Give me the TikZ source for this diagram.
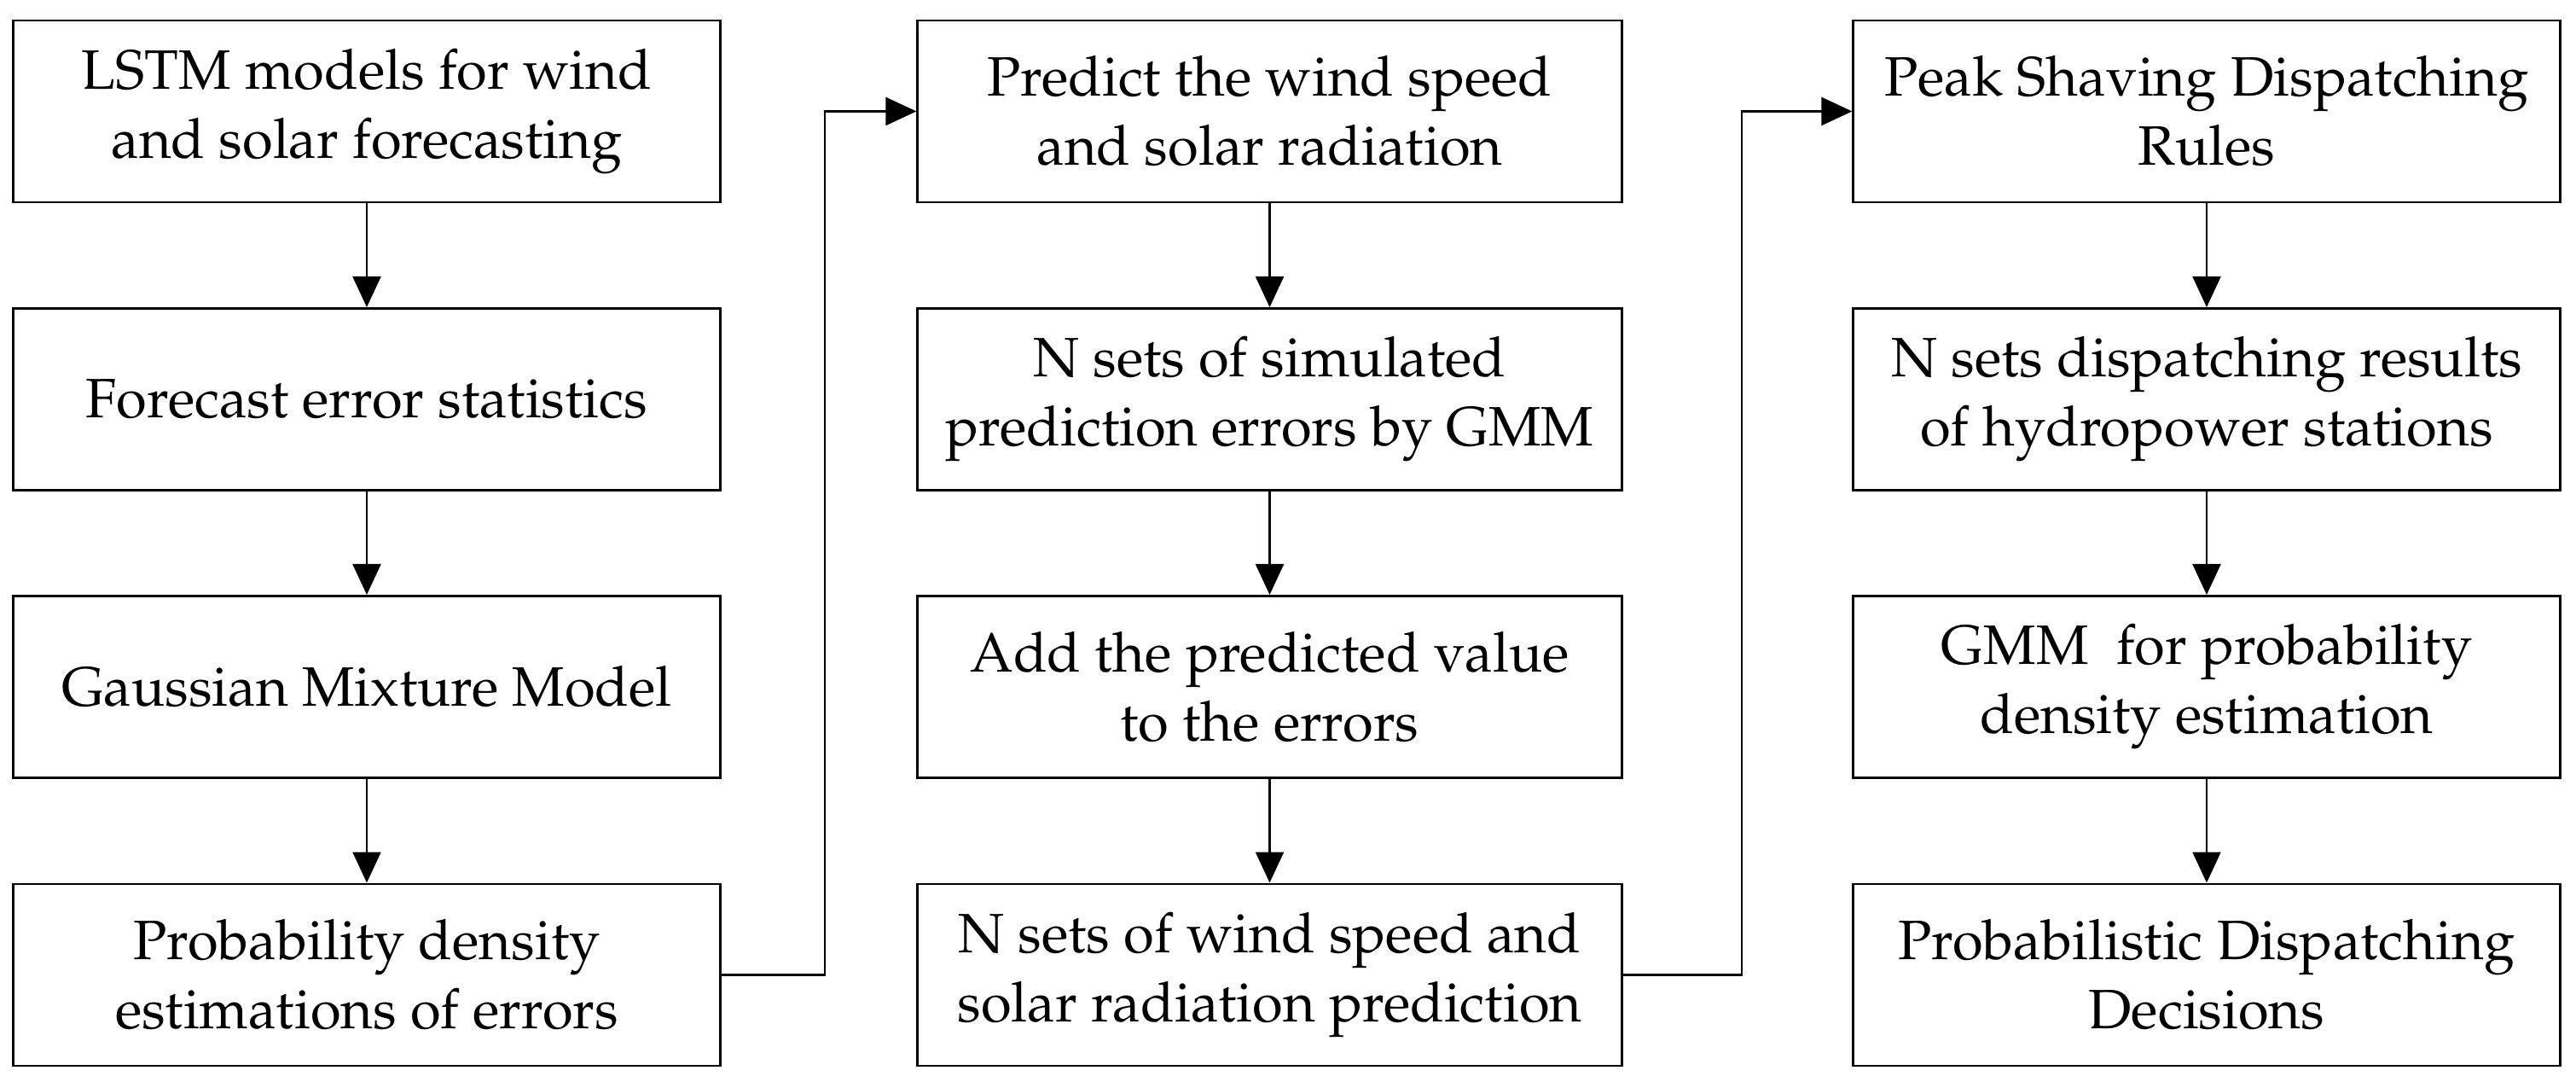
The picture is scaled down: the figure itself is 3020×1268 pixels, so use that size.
\documentclass[tikz,border=0pt]{standalone}
\usepackage[T1]{fontenc}
\usepackage{mathpazo}
\usetikzlibrary{arrows.meta}
\begin{document}
\begin{tikzpicture}[x=0.01cm,y=-0.01cm,
  box/.style={draw,line width=0.8pt,minimum width=8.28cm,minimum height=2.13cm,
    align=center,inner sep=0pt,font=\fontsize{18.5}{23}\selectfont},
  boxm/.style={box,minimum width=8.25cm},
  arr/.style={line width=0.65pt,-{Triangle[length=3.6mm,width=3.3mm]}}]
\useasboundingbox (0,0) rectangle (3020,1268);
% column 1
\node[box] (a1) at (430,130.5) {LSTM models for wind\\and solar forecasting};
\node[box] (a2) at (430,468) {Forecast error statistics};
\node[box] (a3) at (430,805) {Gaussian Mixture Model};
\node[box] (a4) at (430,1142.5) {Probability density\\estimations of errors};
% column 2
\node[boxm] (b1) at (1488.5,130.5) {Predict the wind speed\\and solar radiation};
\node[boxm] (b2) at (1488.5,468) {N sets of simulated\\prediction errors by GMM};
\node[boxm] (b3) at (1488.5,805) {Add the predicted value\\to the errors};
\node[boxm] (b4) at (1488.5,1142.5) {N sets of wind speed and\\solar radiation prediction};
% column 3
\node[box] (c1) at (2587,130.5) {Peak Shaving Dispatching\\Rules};
\node[box] (c2) at (2587,468) {N sets dispatching results\\of hydropower stations};
\node[box] (c3) at (2587,805) {GMM~ for probability\\density estimation};
\node[box] (c4) at (2587,1142.5) {Probabilistic Dispatching\\Decisions};
% vertical arrows
\foreach \c in {a,b,c}{
  \draw[arr] (\c1) -- (\c2);
  \draw[arr] (\c2) -- (\c3);
  \draw[arr] (\c3) -- (\c4);
}
% column links
\coordinate (k1) at (967,600);
\coordinate (k2) at (2042,600);
\draw[arr] (a4.east) -| (k1) |- (b1.west);
\draw[arr] (b4.east) -| (k2) |- (c1.west);
\end{tikzpicture}
\end{document}
